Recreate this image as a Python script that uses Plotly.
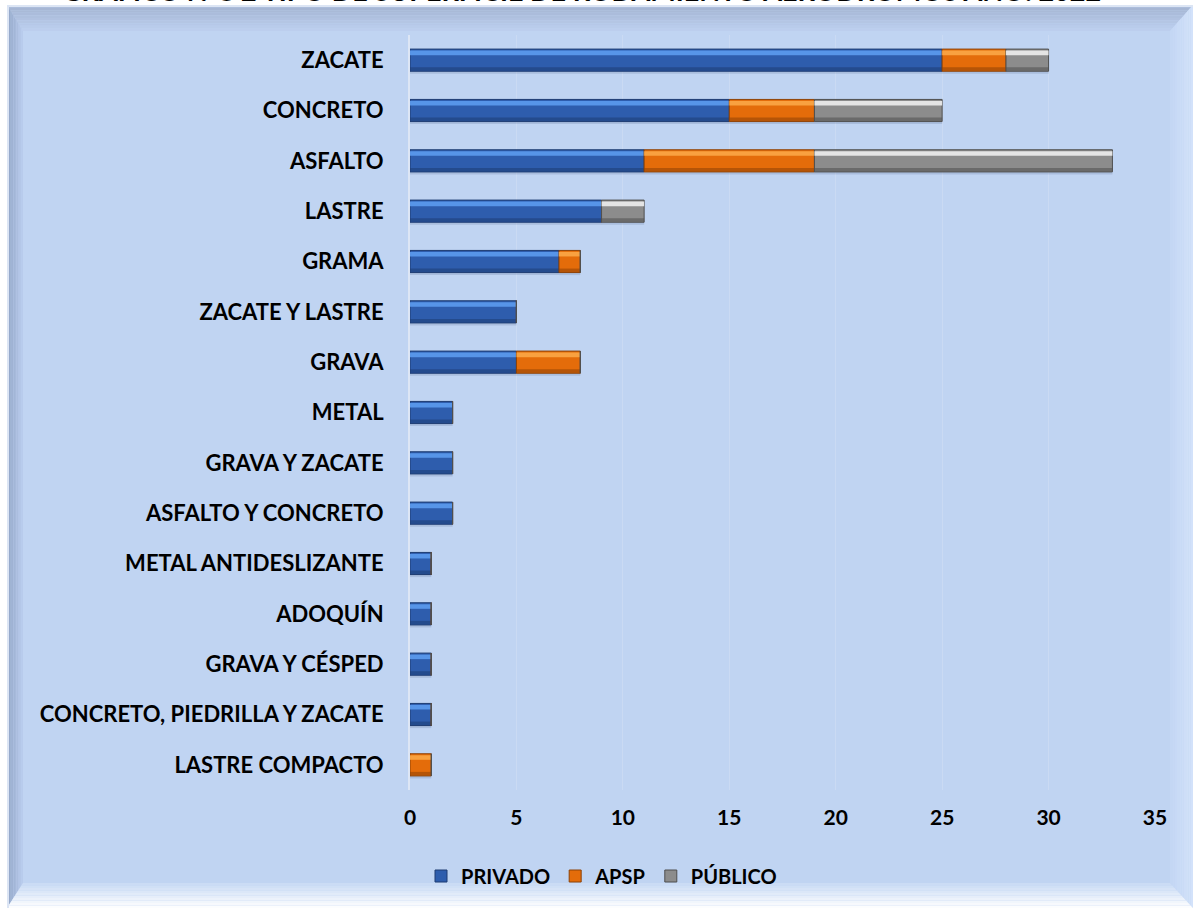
import plotly.graph_objects as go

# Surface types, top to bottom
categories = [
    "ZACATE", "CONCRETO", "ASFALTO", "LASTRE", "GRAMA", "ZACATE Y LASTRE",
    "GRAVA", "METAL", "GRAVA Y ZACATE", "ASFALTO Y CONCRETO",
    "METAL ANTIDESLIZANTE", "ADOQUÍN", "GRAVA Y CÉSPED",
    "CONCRETO, PIEDRILLA Y ZACATE", "LASTRE COMPACTO",
]
privado = [25, 15, 11, 9, 7, 5, 5, 2, 2, 2, 1, 1, 1, 1, 0]
apsp    = [3, 4, 8, 0, 1, 0, 3, 0, 0, 0, 0, 0, 0, 0, 1]
publico = [2, 6, 14, 2, 0, 0, 0, 0, 0, 0, 0, 0, 0, 0, 0]
series_names = ["PRIVADO", "APSP", "PÚBLICO"]
x_ticks = [0, 5, 10, 15, 20, 25, 30, 35]
title_text = "GRÁFICO N°8 2 TIPO DE SUPERFICIE DE RODAMIENTO AERÓDROMOS AÑO: 2022"

W, H = 1193, 908
FONT = "Lato"

# colour sets: main, highlight, dark edge
palette = {
    "PRIVADO": ("#2E5DAD", "#5C9BEE", "#1E3C72"),
    "APSP":    ("#E46C0A", "#FBA746", "#8E4206"),
    "PÚBLICO": ("#8C8C8C", "#EDEDED", "#4F4F4F"),
}


def px(x):
    return x / W


def py(y):
    return 1 - y / H


def hex_mix(c1, c2, t):
    a = [int(c1[i:i + 2], 16) for i in (1, 3, 5)]
    b = [int(c2[i:i + 2], 16) for i in (1, 3, 5)]
    return "#%02x%02x%02x" % tuple(round(a[k] + (b[k] - a[k]) * t) for k in range(3))


def poly(points, color):
    d = "M " + " L ".join(f"{px(x):.5f},{py(y):.5f}" for x, y in points) + " Z"
    return dict(type="path", xref="paper", yref="paper", path=d,
                fillcolor=color, line=dict(width=0), layer="below")


# Beveled panel behind the chart
X0, Y0, X1, Y1 = 7, 5, 1193, 908
L, T, R, B = 16, 26, 23, 25
side_cols = {
    "top": ("#A2B2CF", "#BDD0F0"),
    "left": ("#90A3C4", "#BACDEE"),
    "right": ("#D4E3FA", "#C3D6F4"),
    "bottom": ("#FFFFFF", "#C8DAF4"),
}
shapes = [poly([(X0, Y0), (X1, Y0), (X1, Y1), (X0, Y1)], "#C0D4F2")]
steps = 10
for i in range(steps):
    f1, f2 = i / steps, (i + 1) / steps
    tm = (i + 0.5) / steps
    shapes.append(poly([(X0 + f1 * L, Y0 + f1 * T), (X1 - f1 * R, Y0 + f1 * T),
                        (X1 - f2 * R, Y0 + f2 * T), (X0 + f2 * L, Y0 + f2 * T)],
                       hex_mix(*side_cols["top"], tm)))
    shapes.append(poly([(X0 + f1 * L, Y0 + f1 * T), (X0 + f2 * L, Y0 + f2 * T),
                        (X0 + f2 * L, Y1 - f2 * B), (X0 + f1 * L, Y1 - f1 * B)],
                       hex_mix(*side_cols["left"], tm)))
    shapes.append(poly([(X1 - f1 * R, Y0 + f1 * T), (X1 - f2 * R, Y0 + f2 * T),
                        (X1 - f2 * R, Y1 - f2 * B), (X1 - f1 * R, Y1 - f1 * B)],
                       hex_mix(*side_cols["right"], tm)))
    shapes.append(poly([(X0 + f1 * L, Y1 - f1 * B), (X1 - f1 * R, Y1 - f1 * B),
                        (X1 - f2 * R, Y1 - f2 * B), (X0 + f2 * L, Y1 - f2 * B)],
                       hex_mix(*side_cols["bottom"], tm)))
# thin light rim on outer edge
shapes.append(dict(type="path", xref="paper", yref="paper",
                   path=f"M {px(X0+1)},{py(Y1)} L {px(X0+1)},{py(Y0+1)} L {px(X1)},{py(Y0+1)}",
                   line=dict(color="#DCE5F4", width=2), layer="below"))

fig = go.Figure()

values = [privado, apsp, publico]
bases = []
running = [0] * len(categories)
for vals in values:
    bases.append(list(running))
    running = [r + v for r, v in zip(running, vals)]

BAR_W = 0.44

# soft drop shadow under each segment
for name, vals, base in zip(series_names, values, bases):
    fig.add_trace(go.Bar(
        y=categories, x=vals, base=base, orientation="h",
        width=0.44, offset=-0.17,
        marker=dict(color="rgba(50,70,110,0.16)", line=dict(width=0)),
        showlegend=False, hoverinfo="skip"))

for name, vals, base in zip(series_names, values, bases):
    main, light, dark = palette[name]
    fig.add_trace(go.Bar(
        name=name, y=categories, x=vals, base=base, orientation="h",
        width=BAR_W, offset=-BAR_W / 2,
        marker=dict(color=main, line=dict(color=dark, width=1)),
        showlegend=True))
    # upper highlight strip
    fig.add_trace(go.Bar(
        y=categories, x=vals, base=base, orientation="h",
        width=0.09, offset=-BAR_W / 2 + 0.03,
        marker=dict(color=light, line=dict(width=0), opacity=0.9),
        showlegend=False, hoverinfo="skip"))
    # lower dark strip
    fig.add_trace(go.Bar(
        y=categories, x=vals, base=base, orientation="h",
        width=0.07, offset=BAR_W / 2 - 0.08,
        marker=dict(color=dark, line=dict(width=0), opacity=0.55),
        showlegend=False, hoverinfo="skip"))

fig.update_layout(
    width=W, height=H,
    margin=dict(l=0, r=0, t=0, b=0, autoexpand=False),
    paper_bgcolor="white",
    plot_bgcolor="rgba(0,0,0,0)",
    barmode="overlay",
    shapes=shapes,
    font=dict(family=FONT, color="black"),
    xaxis=dict(
        domain=[px(410), px(1155)],
        range=[0, 35],
        tickvals=x_ticks,
        showgrid=True, gridcolor="#CADAF3", gridwidth=1,
        zeroline=False, showline=False,
        ticks="outside", ticklen=9, tickcolor="rgba(0,0,0,0)",
        tickfont=dict(family=FONT, size=21, color="black", weight="bold"),
        automargin=False,
        fixedrange=True,
    ),
    yaxis=dict(
        domain=[py(790), py(35)],
        categoryorder="array", categoryarray=categories,
        autorange="reversed",
        showgrid=False, zeroline=False,
        showline=True, linecolor="#DDE6F5", linewidth=2,
        ticks="", ticklabelstandoff=20,
        tickfont=dict(family=FONT, size=22, color="black", weight="bold"),
        automargin=False,
        fixedrange=True,
    ),
    legend=dict(
        orientation="h", x=px(421), xanchor="left",
        y=py(876), yanchor="middle",
        font=dict(family=FONT, size=20, color="black", weight="bold"),
        bgcolor="rgba(0,0,0,0)", itemwidth=30, traceorder="normal",
    ),
    annotations=[dict(
        text=f"<b>{title_text}</b>", xref="paper", yref="paper",
        x=px(581), y=1, xanchor="center", yanchor="bottom", yshift=-9,
        showarrow=False, font=dict(family=FONT, size=27, color="black"),
    )],
)

fig.write_html("out.html")
